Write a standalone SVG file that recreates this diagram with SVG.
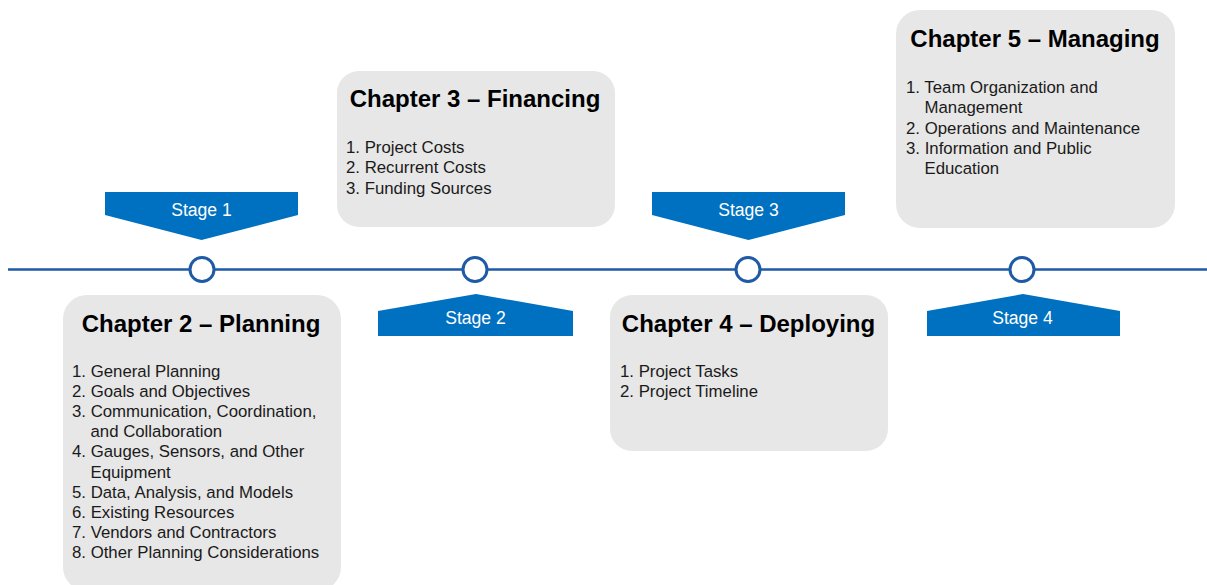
<svg xmlns="http://www.w3.org/2000/svg" width="1207" height="585" viewBox="0 0 1207 585">
<style>
.box{fill:#e7e7e7;}
.title{font-family:"Liberation Sans",Arial,sans-serif;font-weight:bold;font-size:24px;fill:#000;text-anchor:middle;}
.item{font-family:"Liberation Sans",Arial,sans-serif;font-size:16.8px;fill:#1a1a1a;}
.stage{fill:#0070c0;}
.stxt{font-family:"Liberation Sans",Arial,sans-serif;font-size:17.6px;fill:#fff;text-anchor:middle;}
.dot{fill:#fff;stroke:#1f5aa6;stroke-width:3;}
</style>
<g id="connectors">
<line x1="8" y1="269.5" x2="1207" y2="269.5" stroke="#1f5aa6" stroke-width="2.5"/>
</g>
<g id="dot1"><circle class="dot" cx="202" cy="269.5" r="12"/></g>
<g id="dot2"><circle class="dot" cx="475" cy="269.5" r="12"/></g>
<g id="dot3"><circle class="dot" cx="748" cy="269.5" r="12"/></g>
<g id="dot4"><circle class="dot" cx="1022" cy="269.5" r="12"/></g>
<g id="stage1">
<polygon class="stage" points="105,192 298,192 298,215 201.5,240 105,215"/>
<text class="stxt" x="201.5" y="216">Stage 1</text>
</g>
<g id="stage2">
<polygon class="stage" points="378,336 573,336 573,311 476,294 378,311"/>
<text class="stxt" x="475.5" y="324">Stage 2</text>
</g>
<g id="stage3">
<polygon class="stage" points="652,192 845,192 845,215 748.5,240 652,215"/>
<text class="stxt" x="748.5" y="216">Stage 3</text>
</g>
<g id="stage4">
<polygon class="stage" points="927,336 1120,336 1120,311 1023,294 927,311"/>
<text class="stxt" x="1022.5" y="324">Stage 4</text>
</g>
<g id="ch2">
<rect class="box" x="63" y="295" width="278" height="296" rx="24"/>
<text class="title" x="201" y="331.5">Chapter 2 – Planning</text>
<text class="item" x="72" y="377">1. General Planning</text>
<text class="item" x="72" y="397.1">2. Goals and Objectives</text>
<text class="item" x="72" y="417.2">3. Communication, Coordination,</text>
<text class="item" x="90.5" y="437.3">and Collaboration</text>
<text class="item" x="72" y="457.4">4. Gauges, Sensors, and Other</text>
<text class="item" x="90.5" y="477.5">Equipment</text>
<text class="item" x="72" y="497.6">5. Data, Analysis, and Models</text>
<text class="item" x="72" y="517.7">6. Existing Resources</text>
<text class="item" x="72" y="537.8">7. Vendors and Contractors</text>
<text class="item" x="72" y="557.9">8. Other Planning Considerations</text>
</g>
<g id="ch3">
<rect class="box" x="337" y="71" width="278" height="156" rx="22"/>
<text class="title" x="475" y="107">Chapter 3 – Financing</text>
<text class="item" x="346" y="153.3">1. Project Costs</text>
<text class="item" x="346" y="173.4">2. Recurrent Costs</text>
<text class="item" x="346" y="193.5">3. Funding Sources</text>
</g>
<g id="ch4">
<rect class="box" x="610" y="295" width="278" height="156" rx="22"/>
<text class="title" x="748.5" y="331.5">Chapter 4 – Deploying</text>
<text class="item" x="620" y="377">1. Project Tasks</text>
<text class="item" x="620" y="397.1">2. Project Timeline</text>
</g>
<g id="ch5">
<rect class="box" x="896" y="10" width="279" height="218" rx="24"/>
<text class="title" x="1035" y="47">Chapter 5 – Managing</text>
<text class="item" x="906" y="93.3">1. Team Organization and</text>
<text class="item" x="924.5" y="113.4">Management</text>
<text class="item" x="906" y="133.5">2. Operations and Maintenance</text>
<text class="item" x="906" y="153.6">3. Information and Public</text>
<text class="item" x="924.5" y="173.7">Education</text>
</g>
</svg>
